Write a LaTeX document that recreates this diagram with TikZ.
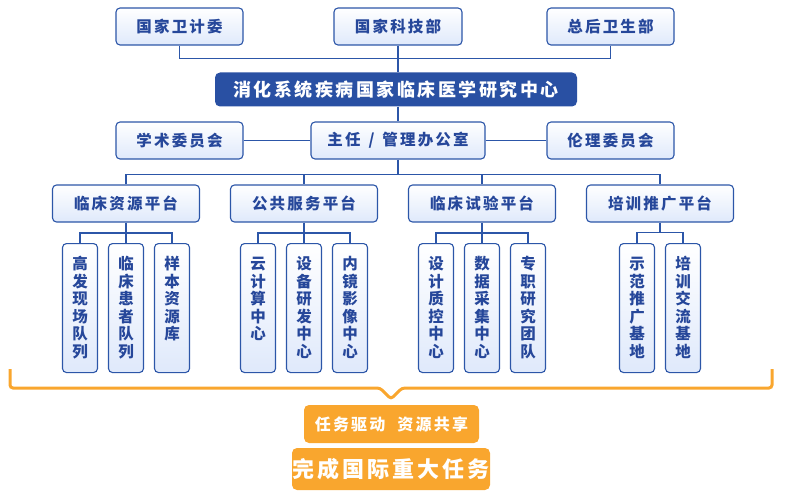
\documentclass[tikz,border=0pt]{standalone}
\usepackage{fontspec}
\newfontfamily\cjk{Noto Sans CJK SC}[LetterSpace=14]
\definecolor{boxline}{HTML}{2C56A8}
\definecolor{boxtext}{HTML}{26479A}
\definecolor{boxbot}{HTML}{DFE9FB}
\definecolor{centerblue}{HTML}{2950A3}
\definecolor{taskorange}{HTML}{F9A62E}
\tikzset{
  unit/.style={draw=boxline, line width=1.1pt, rounded corners=4pt,
    top color=white, bottom color=boxbot, text=boxtext,
    font=\cjk\bfseries\fontsize{15.5}{17.5}\selectfont,
    minimum width=127pt, minimum height=37pt, inner sep=0pt},
  platform/.style={unit, minimum width=147pt},
  column/.style={unit, minimum width=35pt, minimum height=129pt, anchor=north,
    text width=35pt, align=center, text height=26pt, text depth=103pt},
  task/.style={fill=taskorange, rounded corners=5pt, text=white, inner sep=0pt,
    font=\cjk\bfseries\fontsize{16}{18}\selectfont},
  link/.style={draw=boxline, line width=1.1pt},
}
\begin{document}
\begin{tikzpicture}[x=1pt,y=-1pt]
      \useasboundingbox (0,0) rectangle (789,500);
      %top
      \node[unit] (wjw) at (179.5,26.5) {国家卫计委};
      \node[unit, minimum width=128pt] (kjb) at (398,26.5) {国家科技部};
      \node[unit] (zhb) at (610.5,26.5) {总后卫生部};
      \node[fill=centerblue, rounded corners=5pt, text=white, inner sep=0pt,
        minimum width=362pt, minimum height=34pt,
        font=\cjk\bfseries\fontsize{18}{20}\selectfont] (center) at (396,89.5) {消化系统疾病国家临床医学研究中心};
      \draw[link] (wjw.south) -- ++(0,13) -| (zhb.south);
      \draw[link] (kjb.south) -- (kjb.south |- center.north);
      %office
      \node[unit] (academic) at (179.5,140.5) {学术委员会};
      \node[unit, minimum width=174pt] (office) at (398,140.5) {主任\hspace*{8pt}/\hspace*{8pt}管理办公室};
      \node[unit] (ethics) at (610.5,140.5) {伦理委员会};
      \draw[link] (kjb.south |- center.south) -- (office.north);
      \draw[link] (academic.east) -- (office.west);
      \draw[link] (office.east) -- (ethics.west);
      %platforms
      \node[platform] (clinres) at (126,203.5) {临床资源平台};
      \node[platform] (pubsvc) at (304,203.5) {公共服务平台};
      \node[platform] (trial) at (482,203.5) {临床试验平台};
      \node[platform] (train) at (660,203.5) {培训推广平台};
      \draw[link] (office.south) -- ++(0,15) coordinate (hub);
      \draw[link] (clinres.north) |- (hub) -| (train.north);
      \draw[link] (pubsvc.north) -- (pubsvc.north |- hub);
      \draw[link] (trial.north) -- (trial.north |- hub);
      %columns
      \node[column] (cohortA) at (80,243) {高\\发\\现\\场\\队\\列};
      \node[column] (cohortB) at (126,243) {临\\床\\患\\者\\队\\列};
      \node[column] (sample) at (172,243) {样\\本\\资\\源\\库};
      \node[column] (cloud) at (258,243) {云\\计\\算\\中\\心};
      \node[column] (device) at (304,243) {设\\备\\研\\发\\中\\心};
      \node[column] (endo) at (350,243) {内\\镜\\影\\像\\中\\心};
      \node[column] (design) at (436,243) {设\\计\\质\\控\\中\\心};
      \node[column] (data) at (482,243) {数\\据\\采\\集\\中\\心};
      \node[column] (team) at (528,243) {专\\职\\研\\究\\团\\队};
      \node[column] (demo) at (637,243) {示\\范\\推\\广\\基\\地};
      \node[column] (exch) at (683,243) {培\\训\\交\\流\\基\\地};
      \draw[link] (clinres.south) -- (cohortB.north);
      \draw[link] (cohortA.north) -- ++(0,-10) -| (sample.north);
      \draw[link] (pubsvc.south) -- (device.north);
      \draw[link] (cloud.north) -- ++(0,-10) -| (endo.north);
      \draw[link] (trial.south) -- (data.north);
      \draw[link] (design.north) -- ++(0,-10) -| (team.north);
      \draw[link] (train.south) -- ++(0,10) coordinate (trainhub);
      \draw[link] (demo.north) |- (trainhub) -| (exch.north);
      %bracket
      \draw[taskorange, line width=3pt, rounded corners=3pt]
        (10,369) |- (380,388) -- (391,399) -- (402,388) -| (772,369);
      \node[task, minimum width=175pt, minimum height=38pt] (drive) at (391.5,424) {任务驱动\hspace*{12pt}资源共享};
      \node[task, minimum width=198pt, minimum height=42pt,
        font=\cjk\bfseries\fontsize{22}{24}\selectfont] (goal) at (391,469) {完成国际重大任务};
\end{tikzpicture}
\end{document}
